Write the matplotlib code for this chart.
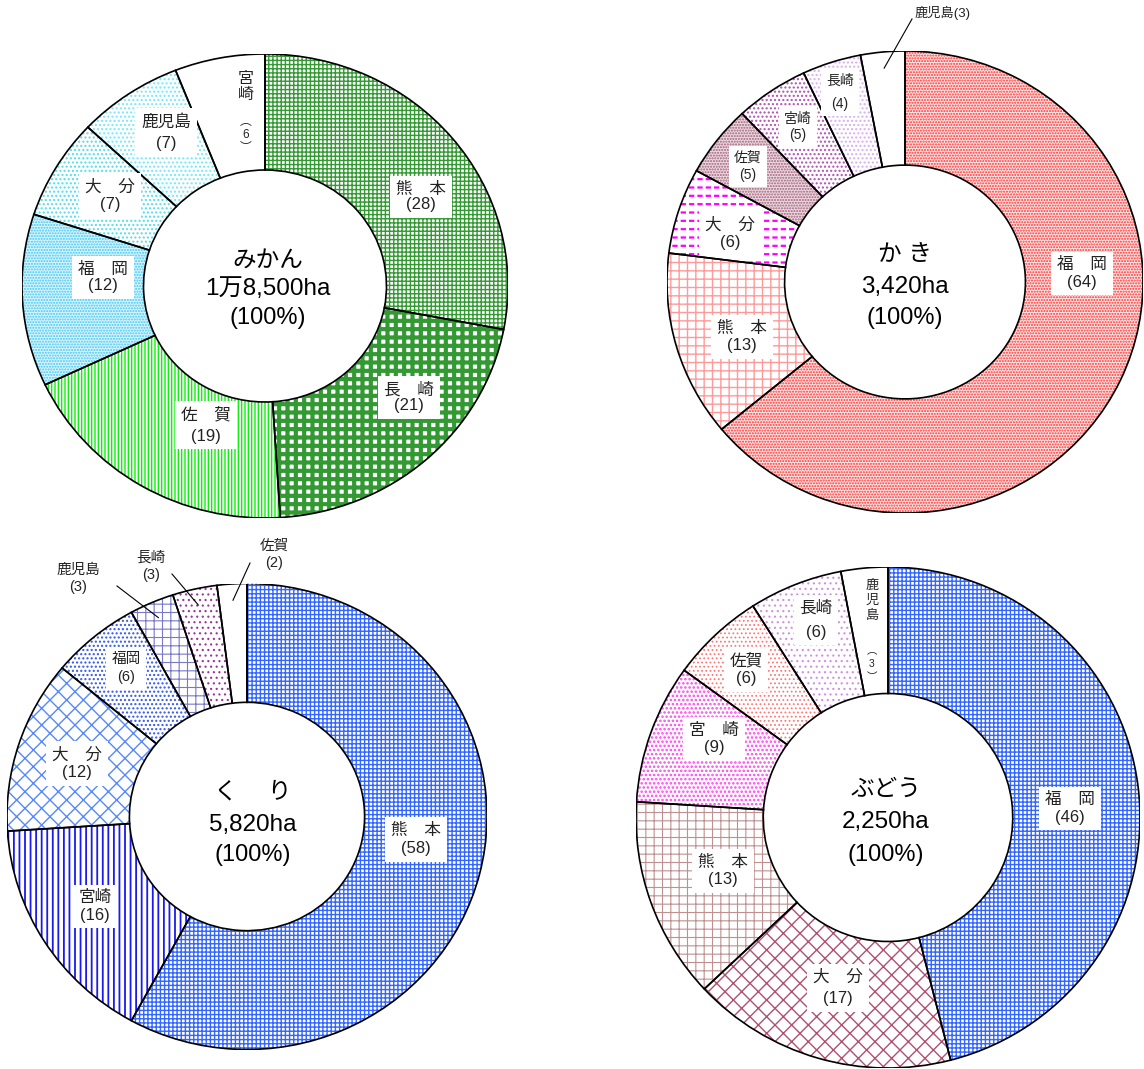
import matplotlib
matplotlib.use("Agg")
import matplotlib.pyplot as plt
from matplotlib.patches import Wedge
from matplotlib.lines import Line2D
import numpy as np

plt.rcParams['font.family'] = ['Liberation Sans', 'Noto Sans CJK JP']

# ---- data (構成比 %) ----
mikan_names = ["熊本", "長崎", "佐賀", "福岡", "大分", "鹿児島", "宮崎"]
mikan_vals = [28, 21, 19, 12, 7, 7, 6]
kaki_names = ["福岡", "熊本", "大分", "佐賀", "宮崎", "長崎", "鹿児島"]
kaki_vals = [64, 13, 6, 5, 5, 4, 3]
kuri_names = ["熊本", "宮崎", "大分", "福岡", "鹿児島", "長崎", "佐賀"]
kuri_vals = [58, 16, 12, 6, 3, 3, 2]
budou_names = ["福岡", "大分", "熊本", "宮崎", "佐賀", "長崎", "鹿児島"]
budou_vals = [46, 17, 13, 9, 6, 6, 3]

crops = ["みかん", "か き", "く　 り", "ぶどう"]
areas = ["1万8,500ha", "3,420ha", "5,820ha", "2,250ha"]
total_label = "(100%)"

W, H = 1144, 1069
fig = plt.figure(figsize=(W / 100, H / 100), dpi=100)
fig.patch.set_facecolor("white")


def fx(x):
    return x / W


def fy(y):
    return 1 - y / H


# ---- styles: (face, hatch, hatch colour, hatch lw) ----
mikan_sty = [("white", "++++", "#339933", 1.0),
             ("white", "++", "#339933", 3.0),
             ("white", "|||||", "#11ee11", 1.0),
             ("#d8f4ff", "......", "#44c8f0", 1.0),
             ("white", "....", "#55dde8", 1.0),
             ("white", "....", "#77e8f8", 1.0),
             ("white", "", "white", 0.0)]
kaki_sty = [("#ffe4e4", "......", "#ff3030", 1.0),
            ("white", "++", "#ff9a9a", 1.0),
            ("white", "--", "#ff00ff", 1.6),
            ("#ecd8e0", "......", "#a06078", 1.0),
            ("white", "....", "#b050b0", 1.0),
            ("white", "....", "#d8b0f0", 1.0),
            ("white", "", "white", 0.0)]
kuri_sty = [("white", "++++", "#3366ff", 1.0),
            ("white", "|||", "#1a1aee", 1.3),
            ("white", "xx", "#5588ff", 1.0),
            ("white", "....", "#3355ee", 1.0),
            ("white", "++", "#7777cc", 0.8),
            ("white", "...", "#993399", 0.8),
            ("white", "", "white", 0.0)]
budou_sty = [("white", "++++", "#3366ff", 1.0),
             ("white", "xx", "#b05070", 1.0),
             ("white", "++", "#c09090", 0.8),
             ("white", "....", "#ff44ee", 1.2),
             ("white", "....", "#ff7777", 0.8),
             ("white", "...", "#d090e0", 0.8),
             ("white", "", "white", 0.0)]


def hatch_lw(p, lw):
    if hasattr(p, "set_hatch_linewidth"):
        p.set_hatch_linewidth(lw)


def donut(cx, cy, rx, ry, hole, vals, styles, dashed=None):
    ax = fig.add_axes([fx(cx - rx), fy(cy + ry), 2 * rx / W, 2 * ry / H])
    wedges, _ = ax.pie(vals, startangle=90, counterclock=False, radius=1,
                       wedgeprops=dict(width=1 - hole, linewidth=0))
    for i, (w, (fc, hatch, hc, hlw)) in enumerate(zip(wedges, styles)):
        w.set_facecolor(fc)
        w.set_edgecolor(hc)
        w.set_linewidth(0)
        if hatch:
            w.set_hatch(hatch)
            hatch_lw(w, hlw)
        if dashed == i:
            # 破線模様 (白い縦線で切る)
            cut = Wedge(w.center, w.r, w.theta1, w.theta2, width=w.width,
                        facecolor="none", edgecolor="white", linewidth=0, hatch="||")
            hatch_lw(cut, 2.2)
            ax.add_patch(cut)
    for w in wedges:
        ax.add_patch(Wedge(w.center, w.r, w.theta1, w.theta2, width=w.width,
                           fill=False, edgecolor="black", linewidth=1.2))
    ax.set_aspect("auto")
    ax.set_xlim(-1, 1)
    ax.set_ylim(-1, 1)
    ax.axis("off")
    return wedges


def label(x, y1, y2, name, val, fs, spaced=True, box=True):
    nm = "　".join(name) if spaced else name
    lsp = (y2 - y1) / (1.17 * fs * 100 / 72)
    kw = dict(ha="center", va="center", fontsize=fs, linespacing=lsp, color="#222222")
    if box:
        kw["bbox"] = dict(boxstyle="square,pad=0.35", fc="white", ec="none")
    fig.text(fx(x), fy((y1 + y2) / 2), "%s\n(%d)" % (nm, val), **kw)


def vlabel(x, ytop, gap, chars, fs):
    lsp = gap / (1.17 * fs * 100 / 72)
    n = len(chars)
    fig.text(fx(x), fy(ytop + gap * (n - 1) / 2), "\n".join(chars), ha="center",
             va="center", fontsize=fs, linespacing=lsp, color="#222222")


def leader(wedge, cx, cy, rx, ry, x2, y2, r=0.93):
    a = np.deg2rad((wedge.theta1 + wedge.theta2) / 2)
    px = cx + rx * r * np.cos(a)
    py = cy - ry * r * np.sin(a)
    fig.add_artist(Line2D([fx(px), fx(x2)], [fy(py), fy(y2)],
                          transform=fig.transFigure, color="black", lw=0.8))


def center_text(cx, ys, i):
    fig.text(fx(cx), fy(ys[0]), crops[i], ha="center", va="center", fontsize=17)
    fig.text(fx(cx), fy(ys[1]), areas[i], ha="center", va="center", fontsize=17.5)
    fig.text(fx(cx), fy(ys[2]), total_label, ha="center", va="center", fontsize=17)


# ---- みかん ----
donut(265, 286, 243, 232, 0.5, mikan_vals, mikan_sty)
label(421, 187, 207, mikan_names[0], mikan_vals[0], 12)
label(409, 387, 408, mikan_names[1], mikan_vals[1], 12)
label(206, 410, 440, mikan_names[2], mikan_vals[2], 12)
label(103, 267, 288, mikan_names[3], mikan_vals[3], 12)
label(110, 184, 207, mikan_names[4], mikan_vals[4], 12)
label(166, 118, 147, mikan_names[5], mikan_vals[5], 12, spaced=False)
vlabel(246, 76, 21, list(mikan_names[6]), 11.5)
vlabel(246, 119, 16, ["︵", str(mikan_vals[6]), "︶"], 8.5)
center_text(268, (262, 289, 318), 0)

# ---- かき ----
kw = donut(905, 282, 238, 231, 0.506, kaki_vals, kaki_sty, dashed=2)
label(1082, 262, 285, kaki_names[0], kaki_vals[0], 12)
label(742, 325, 349, kaki_names[1], kaki_vals[1], 12)
label(730, 222, 245, kaki_names[2], kaki_vals[2], 12)
label(748, 156, 177, kaki_names[3], kaki_vals[3], 10, spaced=False)
label(798, 117, 137, kaki_names[4], kaki_vals[4], 10, spaced=False)
label(840, 77, 108, kaki_names[5], kaki_vals[5], 10, spaced=False)
fig.text(fx(943), fy(13), "%s(%d)" % (kaki_names[6], kaki_vals[6]), ha="center",
         va="center", fontsize=9.5, color="#222222")
leader(kw[6], 905, 282, 238, 231, 912, 19)
center_text(905, (255, 287, 318), 1)

# ---- くり ----
kr = donut(247, 816.5, 240, 233, 0.49, kuri_vals, kuri_sty)
label(416, 827, 852, kuri_names[0], kuri_vals[0], 12)
label(95, 895, 918, kuri_names[1], kuri_vals[1], 12, spaced=False)
label(77, 752, 775, kuri_names[2], kuri_vals[2], 12)
label(126, 657, 679, kuri_names[3], kuri_vals[3], 10.5, spaced=False)
label(78, 568, 589, kuri_names[4], kuri_vals[4], 10.5, spaced=False, box=False)
label(151, 555, 577, kuri_names[5], kuri_vals[5], 10.5, spaced=False, box=False)
label(274, 543, 565, kuri_names[6], kuri_vals[6], 10.5, spaced=False, box=False)
leader(kr[4], 247, 816.5, 240, 233, 117, 586)
leader(kr[5], 247, 816.5, 240, 233, 172, 574)
leader(kr[6], 247, 816.5, 240, 233, 250, 563)
center_text(253, (792, 825, 855), 2)

# ---- ぶどう ----
donut(888, 817.5, 252, 250.5, 0.495, budou_vals, budou_sty)
label(1070, 797, 820, budou_names[0], budou_vals[0], 12)
label(838, 973, 1003, budou_names[1], budou_vals[1], 12)
label(723, 859, 883, budou_names[2], budou_vals[2], 12)
label(714, 727, 751, budou_names[3], budou_vals[3], 12)
label(746, 657, 682, budou_names[4], budou_vals[4], 12, spaced=False)
label(816, 603, 637, budou_names[5], budou_vals[5], 12, spaced=False)
vlabel(872, 581, 20, list(budou_names[6]), 9.5)
vlabel(872, 647, 17, ["︵", str(budou_vals[6]), "︶"], 7.5)
center_text(886, (790, 822, 855), 3)

fig.savefig("out.png", dpi=100)
